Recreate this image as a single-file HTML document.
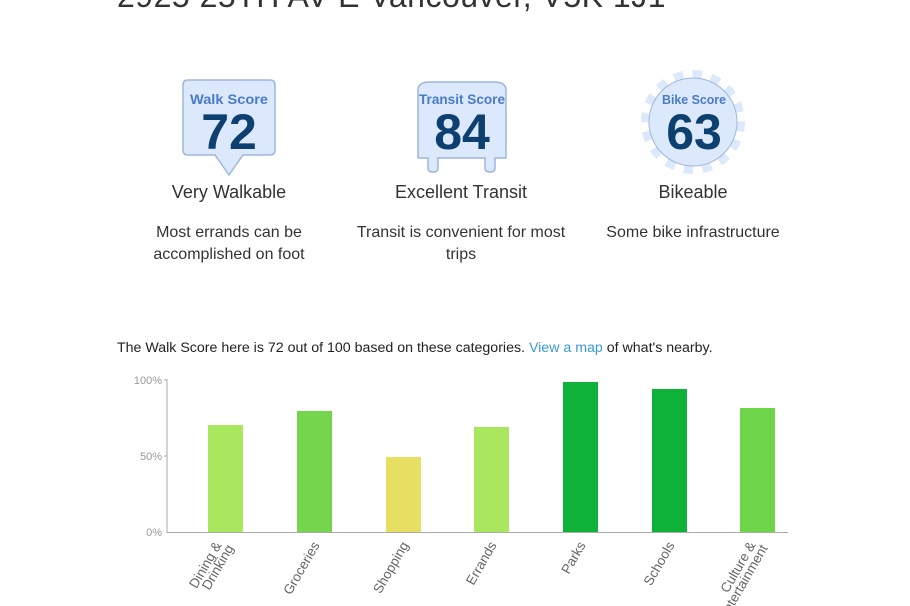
<!DOCTYPE html>
<html><head><meta charset="utf-8"><style>
body{margin:0;width:910px;height:606px;overflow:hidden;background:#fff;font-family:"Liberation Sans",sans-serif;color:#333;position:relative}
.t{position:absolute;white-space:nowrap}
.c{text-align:center;transform:translateX(-50%)}
</style></head><body>
<div class="t" style="left:117px;top:-22px;font-size:32px;color:#333;letter-spacing:0.5px">2925 25TH AV E Vancouver, V5K 1J1</div>

<svg style="position:absolute;left:0;top:0" width="910" height="300">
 <path d="M188 80 H270 Q275 80 275 85 V150 Q275 155 270 155 H243 L229 175 L215 155 H188 Q183 155 183 150 V85 Q183 80 188 80Z" fill="#dce8fb" stroke="#9fb6dc" stroke-width="1.5"/>
 <text x="229" y="104" text-anchor="middle" font-family="Liberation Sans" font-weight="bold" font-size="14" fill="#4a7bc8" textLength="78" lengthAdjust="spacingAndGlyphs">Walk Score</text>
 <text x="229" y="149" text-anchor="middle" font-family="Liberation Sans" font-weight="bold" font-size="50" fill="#0d3f6f">72</text>
 <path d="M418 90 Q418 82 430 82 H494 Q506 82 506 90 V158 H495 V168 Q495 172 490 172 Q485 172 485 168 V158 H438 V168 Q438 172 433 172 Q428 172 428 168 V158 H418Z" fill="#dce8fb" stroke="#9fb6dc" stroke-width="1.5"/>
 <text x="462" y="104" text-anchor="middle" font-family="Liberation Sans" font-weight="bold" font-size="14" fill="#4a7bc8" textLength="86" lengthAdjust="spacingAndGlyphs">Transit Score</text>
 <text x="462" y="149" text-anchor="middle" font-family="Liberation Sans" font-weight="bold" font-size="50" fill="#0d3f6f">84</text>
 <circle cx="693" cy="122" r="46" fill="none" stroke="#dce8fb" stroke-width="12" stroke-dasharray="9 9"/>
 <circle cx="693" cy="122" r="44" fill="#dce8fb" stroke="#9fb6dc" stroke-width="1"/>
 <text x="694" y="104" text-anchor="middle" font-family="Liberation Sans" font-weight="bold" font-size="13" fill="#4a7bc8" textLength="64" lengthAdjust="spacingAndGlyphs">Bike Score</text>
 <text x="694" y="149" text-anchor="middle" font-family="Liberation Sans" font-weight="bold" font-size="50" fill="#0d3f6f">63</text>
</svg>

<div class="t c" style="left:229px;top:182px;font-size:18px">Very Walkable</div>
<div class="t c" style="left:461px;top:182px;font-size:18px">Excellent Transit</div>
<div class="t c" style="left:693px;top:182px;font-size:18px">Bikeable</div>
<div class="t c" style="left:229px;top:222px;font-size:16px;line-height:22px;text-align:center">Most errands can be<br>accomplished on foot</div>
<div class="t c" style="left:461px;top:222px;font-size:16px;line-height:22px;text-align:center">Transit is convenient for most<br>trips</div>
<div class="t c" style="left:693px;top:222px;font-size:16px;line-height:22px">Some bike infrastructure</div>

<div class="t" style="left:117px;top:340px;font-size:14.2px;color:#222">The Walk Score here is 72 out of 100 based on these categories. <span style="color:#3a9ad9">View a map</span> of what's nearby.</div>

<svg style="position:absolute;left:0;top:0" width="910" height="606">
 <g font-family="Liberation Sans" font-size="11" fill="#999" text-anchor="end">
  <text x="162" y="384">100%</text><text x="162" y="460">50%</text><text x="162" y="536">0%</text>
 </g>
 <line x1="167" y1="379" x2="167" y2="533" stroke="#aaa"/>
 <line x1="167" y1="532.5" x2="788" y2="532.5" stroke="#aaa"/>
 <line x1="164" y1="380" x2="167" y2="380" stroke="#aaa"/>
 <line x1="164" y1="456" x2="167" y2="456" stroke="#aaa"/>
 <rect x="208" y="425" width="35" height="107" fill="#a9e85e"/>
 <rect x="297" y="411" width="35" height="121" fill="#75d64d"/>
 <rect x="386" y="457" width="35" height="75" fill="#e6df62"/>
 <rect x="474" y="427" width="35" height="105" fill="#a9e85e"/>
 <rect x="563" y="382" width="35" height="150" fill="#0fb239"/>
 <rect x="652" y="389" width="35" height="143" fill="#0fb239"/>
 <rect x="740" y="408" width="35" height="124" fill="#6fd548"/>
 <g font-family="Liberation Sans" font-size="13.5" fill="#666" text-anchor="end">
  <text transform="translate(222,545) rotate(-60)">Dining &amp;</text>
  <text transform="translate(234,548) rotate(-60)">Drinking</text>
  <text transform="translate(320,545) rotate(-60)">Groceries</text>
  <text transform="translate(409,545) rotate(-60)">Shopping</text>
  <text transform="translate(497,545) rotate(-60)">Errands</text>
  <text transform="translate(586,545) rotate(-60)">Parks</text>
  <text transform="translate(675,545) rotate(-60)">Schools</text>
  <text transform="translate(756,545) rotate(-60)">Culture &amp;</text>
  <text transform="translate(768,548) rotate(-60)">Entertainment</text>
 </g>
</svg>
</body></html>
